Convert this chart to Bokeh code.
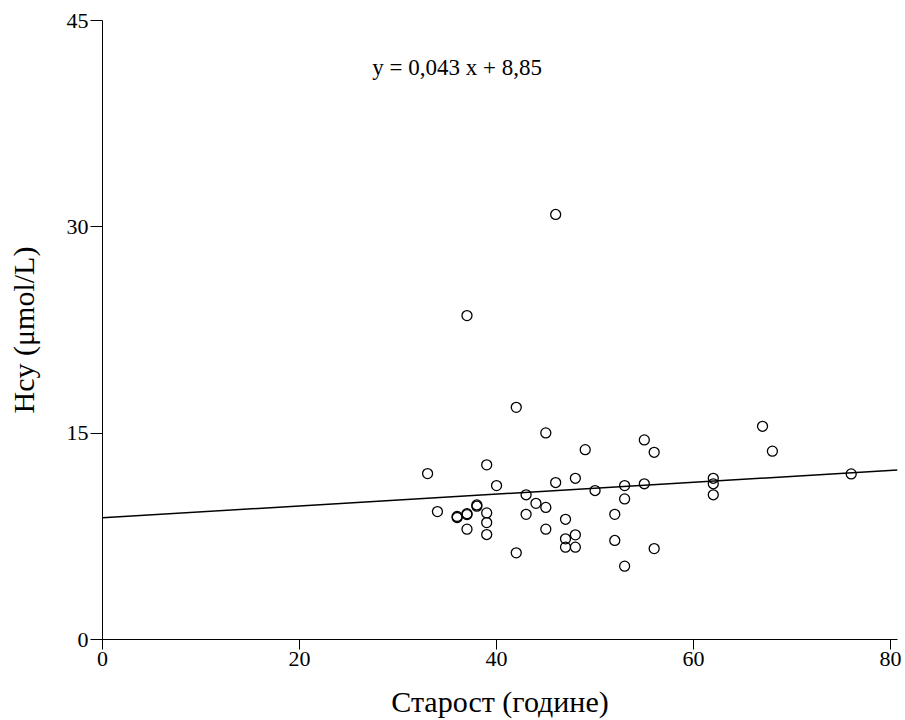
from bokeh.plotting import figure
from bokeh.models import FixedTicker, Range1d, ColumnDataSource
from bokeh.core.properties import value
from bokeh.embed import file_html
from bokeh.resources import INLINE

# Data
age = [33, 34, 37, 36, 36, 37, 37, 37, 38, 38, 39, 39, 39, 39, 40, 42, 42, 43, 43, 44,
       45, 45, 45, 46, 46, 47, 47, 47, 48, 48, 48, 49, 50, 52, 52, 53, 53, 53, 55, 55,
       56, 56, 62, 62, 62, 67, 68, 76]
hcy = [12.06, 9.30, 23.55, 8.87, 8.95, 9.08, 9.15, 8.02, 9.69, 9.78, 12.7, 9.2, 8.5, 7.63,
       11.19, 16.88, 6.3, 10.52, 9.1, 9.9, 15.02, 9.6, 8.02, 30.9, 11.41, 8.74, 7.32, 6.71,
       11.72, 7.61, 6.71, 13.8, 10.83, 9.1, 7.2, 11.19, 10.22, 5.33, 14.51, 11.32, 13.61,
       6.61, 11.72, 11.32, 10.52, 15.5, 13.69, 12.04]
slope = 0.043
intercept = 8.85
x_ticks = [0, 20, 40, 60, 80]
y_ticks = [0, 15, 30, 45]
equation = "y = 0,043 x + 8,85"
x_label = "Старост (године)"
y_label = "Hcy (μmol/L)"

FONT = "Liberation Serif"

p = figure(width=905, height=720, output_backend="svg", toolbar_location=None,
           x_range=Range1d(0, 80.7), y_range=Range1d(0, 45),
           min_border_left=102, min_border_top=20, min_border_bottom=81, min_border_right=8)
p.outline_line_color = None
p.xgrid.visible = False
p.ygrid.visible = False

src = ColumnDataSource(dict(x=age, y=hcy))
p.scatter("x", "y", source=src, size=10, fill_color=None, line_color="black", line_width=1.3)

x0, x1 = 0, 80.7
p.line([x0, x1], [intercept + slope * x0, intercept + slope * x1], line_color="black", line_width=1.5)

p.text(x=[36.0], y=[41.6], text=[equation], text_font=value(FONT), text_font_size="23px",
       text_align="center", text_baseline="middle", text_color="black")

for ax in (p.xaxis[0], p.yaxis[0]):
    ax.axis_line_color = "black"
    ax.major_tick_line_color = "black"
    ax.minor_tick_line_color = None
    ax.major_tick_in = 0
    ax.major_label_text_font = FONT
    ax.major_label_text_font_size = "22px"
    ax.major_label_text_color = "black"
    ax.axis_label_text_font = FONT
    ax.axis_label_text_font_size = "30px"
    ax.axis_label_text_font_style = "normal"
    ax.axis_label_text_color = "black"

p.xaxis[0].ticker = FixedTicker(ticks=x_ticks)
p.yaxis[0].ticker = FixedTicker(ticks=y_ticks)
p.xaxis[0].major_tick_out = 10
p.yaxis[0].major_tick_out = 12
p.xaxis[0].major_label_standoff = 2
p.yaxis[0].major_label_standoff = 2
p.xaxis[0].axis_label = x_label
p.yaxis[0].axis_label = y_label
p.xaxis[0].axis_label_standoff = 16
p.yaxis[0].axis_label_standoff = 24

open("out.html", "w").write(file_html(p, INLINE))
